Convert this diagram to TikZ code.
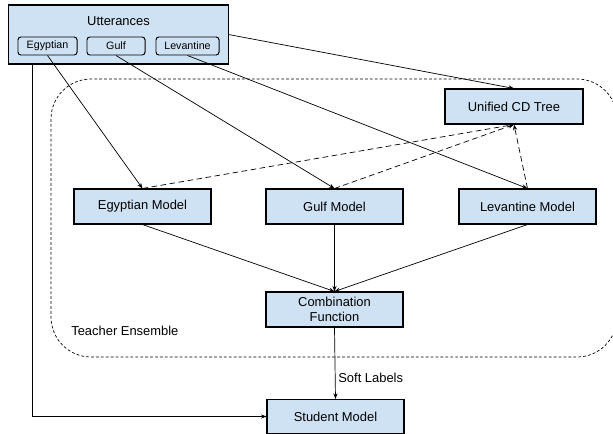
\documentclass[tikz,border=0pt]{standalone}
\usepackage{fontspec}
\setmainfont{Liberation Sans}
\usetikzlibrary{arrows.meta}
\definecolor{boxblue}{RGB}{207,226,243}

\begin{document}
\begin{tikzpicture}[x=0.025cm,y=-0.025cm,
  model/.style={draw,line width=0.75pt,fill=boxblue,minimum width=3.425cm,minimum height=0.875cm,inner sep=0pt,align=center,font=\fontsize{9.2}{10.5}\selectfont},
  dialect/.style={draw,line width=0.7pt,rounded corners=2pt,fill=boxblue,minimum height=0.45cm,inner sep=0pt,font=\fontsize{7.6}{8}\selectfont},
  link/.style={line width=0.5pt,-{Stealth[length=4pt,width=3pt]}},
  tree/.style={link,dash pattern=on 4pt off 2.5pt},
  plain/.style={inner sep=0pt,font=\fontsize{9.2}{10.5}\selectfont}]

\useasboundingbox (0,0) rectangle (613,434);
\clip (0,0) rectangle (613,434);

% teacher ensemble frame
\draw[line width=0.5pt,dash pattern=on 2pt off 1.5pt,rounded corners=1cm] (51,79) rectangle (617,357);
\node[plain,anchor=west] (teachlabel) at (71,331) {Teacher Ensemble};

% utterances
\node[model,minimum width=5.475cm,minimum height=1.475cm] (utt) at (118.5,34.5) {};
\node[plain] (uttlabel) at (118.5,21) {Utterances};
\node[dialect,minimum width=1.475cm] (egy) at (47.5,46) {Egyptian};
\node[dialect,minimum width=1.45cm] (gulf) at (116,46) {Gulf};
\node[dialect,minimum width=1.575cm] (lev) at (187.5,46) {Levantine};

% models
\node[model,minimum width=3.45cm] (cd) at (514,106.5) {Unified CD Tree};
\node[model] (egm) at (142.5,206.5) {Egyptian Model};
\node[model] (gulfm) at (334.5,206.5) {Gulf Model};
\node[model] (levm) at (527.5,206.5) {Levantine Model};
\node[model] (comb) at (334.5,309.5) {Combination\\Function};
\node[model,minimum height=0.85cm] (stud) at (335.5,416.5) {Student Model};

% connectors
\draw[link] (utt.east) -- (cd.north);
\draw[link] (egy.south) -- (egm.north);
\draw[link] (gulf.south) -- (gulfm.north);
\draw[link] (lev.south) -- (levm.north);

\draw[tree] (egm.north) -- (cd.south);
\draw[tree] (gulfm.north) -- (cd.south);
\draw[tree] (levm.north) -- (cd.south);

\draw[link] (egm.south) -- (comb.north);
\draw[link] (gulfm.south) -- (comb.north);
\draw[link] (levm.south) -- (comb.north);

\draw[link] (comb.south) -- node[plain,right=2pt,pos=0.7] (softlabel) {Soft Labels} (stud.north);

\coordinate (uttleft) at (32,64);
\draw[link] (uttleft) |- (stud.west);

\end{tikzpicture}
\end{document}
